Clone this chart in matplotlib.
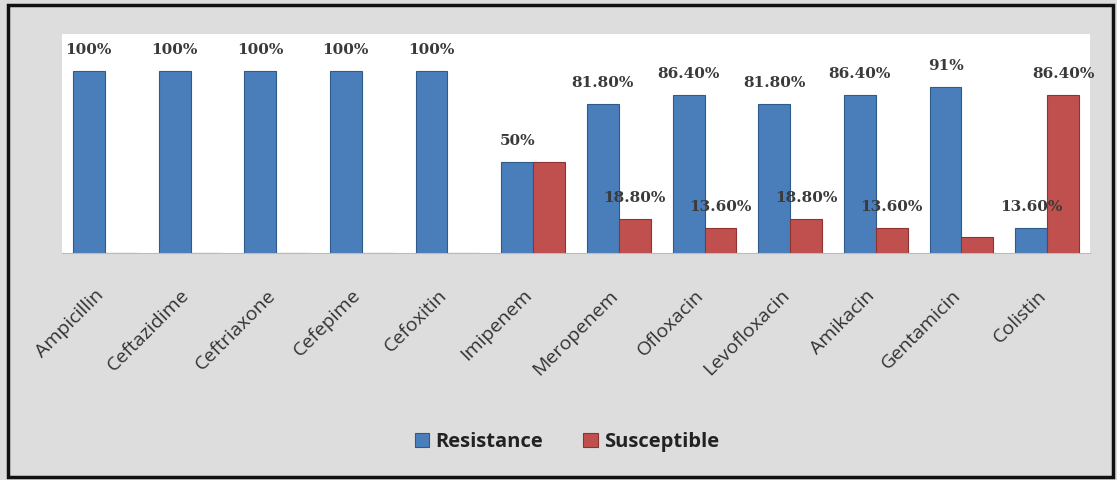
import numpy as np
import matplotlib.pyplot as plt
import matplotlib.transforms as mtransforms
from matplotlib.patches import Rectangle

drugs = ['Ampicillin', 'Ceftazidime', 'Ceftriaxone', 'Cefepime', 'Cefoxitin', 'Imipenem',
         'Meropenem', 'Ofloxacin', 'Levofloxacin', 'Amikacin', 'Gentamicin', 'Colistin']
resistance = [100, 100, 100, 100, 100, 50, 81.8, 86.4, 81.8, 86.4, 91, 13.6]
susceptible = [0, 0, 0, 0, 0, 50, 18.8, 13.6, 18.8, 13.6, 9, 86.4]
res_labels = ['100%', '100%', '100%', '100%', '100%', '50%', '81.80%', '86.40%',
              '81.80%', '86.40%', '91%', '13.60%']
sus_labels = ['', '', '', '', '', '', '18.80%', '13.60%', '18.80%', '13.60%', '', '86.40%']

fig = plt.figure(figsize=(11.17, 4.8), dpi=100)
fig.patch.set_facecolor('#dddddd')
fig.patches.append(Rectangle((8 / 1117, 3 / 480), 1105 / 1117, 472 / 480,
                             transform=fig.transFigure, fill=False,
                             edgecolor='#111111', linewidth=2.5))

ax = fig.add_axes([62 / 1117, 1 - 253 / 480, 1028 / 1117, 219 / 480])
ax.set_facecolor('white')

x = np.arange(len(drugs))
w = 0.373
b1 = ax.bar(x - w / 2, resistance, w, color='#4a7ebb', edgecolor='#2f5a8c', linewidth=0.8,
            label='Resistance')
b2 = ax.bar(x + w / 2, susceptible, w, color='#c0504d', edgecolor='#8c3432', linewidth=0.8,
            label='Susceptible')

lab_font = dict(family='DejaVu Serif', fontweight='bold', fontsize=11, color='#3a3a3a')
ax.bar_label(b1, labels=res_labels, padding=10, **lab_font)
ax.bar_label(b2, labels=sus_labels, padding=10, **lab_font)

ax.set_xlim(-0.5, len(drugs) - 0.5)
ax.set_ylim(0, 120)
ax.set_yticks([])
ax.set_xticks(x)
ax.set_xticklabels(drugs, rotation=45, ha='right', rotation_mode='anchor',
                   fontsize=14, color='#333333', family='Open Sans')
ax.tick_params(axis='x', length=0, pad=24)
shift = mtransforms.ScaledTranslation(-10 / 100, 0, fig.dpi_scale_trans)
for lbl in ax.get_xticklabels():
    lbl.set_transform(lbl.get_transform() + shift)
for s in ['top', 'left', 'right']:
    ax.spines[s].set_visible(False)
ax.spines['bottom'].set_color('#bbbbbb')

leg = fig.legend(handles=[b1, b2], loc='center', bbox_to_anchor=(567 / 1117, 1 - 442 / 480),
                 ncol=2, frameon=False, handlelength=0.7, handleheight=0.7,
                 handletextpad=0.3, columnspacing=2.0,
                 prop={'family': 'Open Sans', 'weight': 'bold', 'size': 14.5})
for t in leg.get_texts():
    t.set_color('#222222')

fig.savefig('out.png', dpi=100, facecolor=fig.get_facecolor())
